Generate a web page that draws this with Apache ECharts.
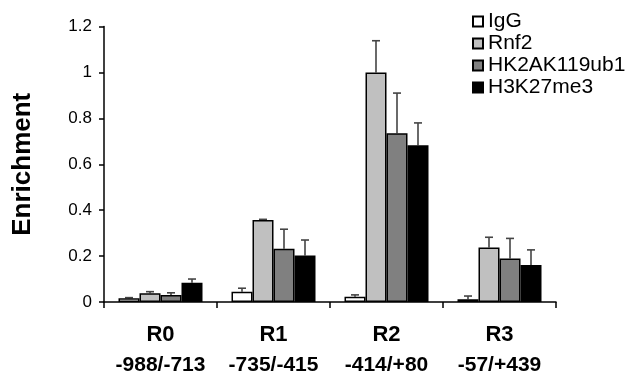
<!DOCTYPE html>
<html>
<head>
<meta charset="utf-8">
<script src="https://cdn.jsdelivr.net/npm/echarts@6/dist/echarts.min.js"></script>
<style>html,body{margin:0;padding:0;background:#fff;}#c{width:627px;height:381px;}</style>
</head>
<body>
<div id="c"></div>
<script>
const categories = ['R0', 'R1', 'R2', 'R3'];
const subLabels = ['-988/-713', '-735/-415', '-414/+80', '-57/+439'];
const seriesNames = ['IgG', 'Rnf2', 'HK2AK119ub1', 'H3K27me3'];
const igg = [0.016, 0.045, 0.023, 0.012];
const iggErr = [0.003, 0.015, 0.008, 0.014];
const rnf2 = [0.038, 0.357, 1.0, 0.237];
const rnf2Err = [0.007, 0.003, 0.138, 0.045];
const hk2 = [0.03, 0.232, 0.735, 0.19];
const hk2Err = [0.01, 0.085, 0.175, 0.087];
const h3k27 = [0.084, 0.202, 0.683, 0.161];
const h3k27Err = [0.016, 0.068, 0.097, 0.066];
const yTicks = [0, 0.2, 0.4, 0.6, 0.8, 1, 1.2];

const values = [igg, rnf2, hk2, h3k27];
const errs = [iggErr, rnf2Err, hk2Err, h3k27Err];
const colors = ['#ffffff', '#c0c0c0', '#808080', '#000000'];
const BW = 21;
const FONT = '"Liberation Sans", Arial, sans-serif';

const chart = echarts.init(document.getElementById('c'), null, {renderer: 'canvas'});

const series = [];
values.forEach((vals, i) => {
  series.push({
    name: seriesNames[i],
    type: 'bar',
    data: vals,
    barWidth: BW,
    barGap: '0%',
    itemStyle: {color: colors[i], borderColor: '#000', borderWidth: 1.5},
    z: 2
  });
});
values.forEach((vals, i) => {
  series.push({
    type: 'custom',
    data: vals.map((v, k) => [k, v, v + errs[i][k]]),
    z: 1,
    silent: true,
    renderItem: function (params, api) {
      const c = api.value(0);
      const base = api.coord([c, api.value(1)]);
      const top = api.coord([c, api.value(2)]);
      const x = base[0] + (i - 1.5) * BW;
      const cap = 4;
      return {
        type: 'group',
        children: [
          {type: 'line', shape: {x1: x, y1: base[1], x2: x, y2: top[1]}, style: {stroke: '#444', lineWidth: 1.6}},
          {type: 'line', shape: {x1: x - cap, y1: top[1], x2: x + cap, y2: top[1]}, style: {stroke: '#444', lineWidth: 1.6}}
        ]
      };
    }
  });
});

chart.setOption({
  animation: false,
  backgroundColor: '#fff',
  textStyle: {fontFamily: FONT},
  grid: {left: 104, right: 71, top: 26.5, bottom: 79, containLabel: false},
  legend: {
    data: seriesNames,
    orient: 'vertical',
    left: 467,
    top: 6,
    icon: 'rect',
    itemWidth: 10,
    itemHeight: 10,
    itemGap: 1,
    textStyle: {fontSize: 21, color: '#000', fontFamily: FONT}
  },
  xAxis: {
    type: 'category',
    data: categories,
    axisLine: {lineStyle: {color: '#000', width: 1.5}},
    axisTick: {show: true, length: 6, lineStyle: {color: '#000', width: 1.5}},
    axisLabel: {
      margin: 18,
      formatter: (v, idx) => '{a|' + v + '}\n{b|' + subLabels[idx] + '}',
      rich: {
        a: {fontSize: 22, fontWeight: 'bold', color: '#000', lineHeight: 30, fontFamily: FONT},
        b: {fontSize: 21, fontWeight: 'bold', color: '#000', lineHeight: 30, fontFamily: FONT}
      }
    }
  },
  yAxis: {
    type: 'value',
    min: yTicks[0],
    max: yTicks[yTicks.length - 1],
    interval: 0.2,
    name: 'Enrichment',
    nameLocation: 'middle',
    nameRotate: 90,
    nameGap: 68,
    nameTextStyle: {fontSize: 26, fontWeight: 'bold', color: '#000', fontFamily: FONT},
    axisLine: {show: true, lineStyle: {color: '#000', width: 1.5}},
    axisTick: {show: true, length: 5, lineStyle: {color: '#000', width: 1.5}},
    splitLine: {show: false},
    axisLabel: {
      margin: 12,
      fontSize: 17,
      color: '#000',
      fontFamily: FONT,
      formatter: v => {
        const t = yTicks.find(x => Math.abs(x - v) < 1e-6);
        return t === undefined ? '' : String(t);
      }
    }
  },
  series: series
});
</script>
</body>
</html>
